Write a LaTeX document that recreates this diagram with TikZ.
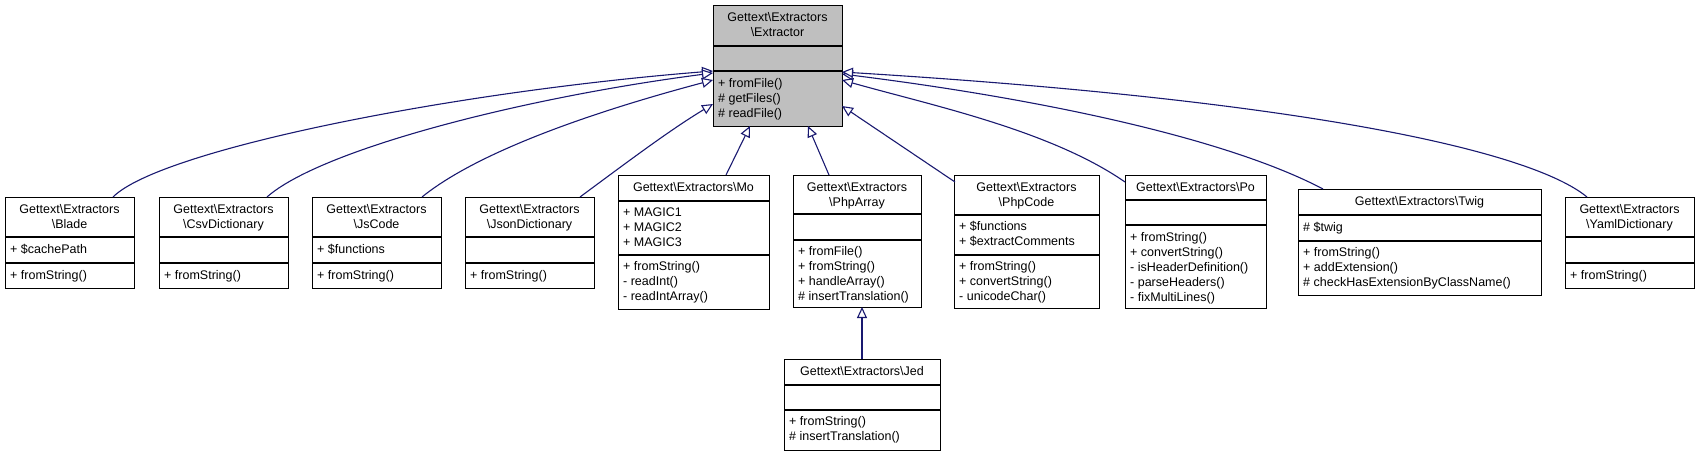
\documentclass[tikz,border=0pt]{standalone}
\usepackage{fontspec}
\setmainfont{Liberation Sans}
\usetikzlibrary{arrows.meta}
\definecolor{edge}{HTML}{191970}
\tikzset{
  box/.style={draw=black, line width=1.2pt, inner sep=0pt, anchor=north west},
  sep/.style={draw=black, line width=1.2pt},
  txt/.style={inner sep=0pt, font=\fontsize{12.5}{15}\selectfont},
  inh/.style={draw=edge, line width=1.1pt, -{Triangle[open, length=11pt, width=10pt, fill=white]}},
}
% name, x1, x2, ytop, ysep1, ysep2, ybottom, fill
\newcommand\cls[8]{%
  \node[box, fill=#8, minimum width={(#3)-(#2)}, minimum height={(#7)-(#4)}] (#1) at (#2,#4) {};
  \draw[sep] (#2,#5) -- (#3,#5);
  \draw[sep] (#2,#6) -- (#3,#6);
}
% title lines: center x, ytop, list
\newcommand\ttl[3]{\foreach \t [count=\i] in {#3} \node[txt, anchor=base] at (#1,#2+1+15*\i) {\t};}
% member lines: x, ytop, list
\newcommand\mem[3]{\foreach \t [count=\i] in {#3} \node[txt, anchor=base west] at (#1+5,#2+15*\i) {\t};}
\newcommand\bs{\textbackslash}
\begin{document}
\begin{tikzpicture}[x=1pt,y=-1pt]
\useasboundingbox (0,0) rectangle (1700,456);
% base
\cls{extractor}{713}{842}{5}{46}{71}{126}{black!25}
\ttl{777.5}{5}{Gettext\bs Extractors, \bs Extractor}
\mem{713}{72}{+ fromFile(), \# getFiles(), \# readFile()}
% Blade
\cls{blade}{5}{134}{197}{237}{263}{288}{white}
\ttl{69.5}{197}{Gettext\bs Extractors, \bs Blade}
\mem{5}{238}{+ \$cachePath}
\mem{5}{264}{+ fromString()}
% Csv
\cls{csv}{159}{288}{197}{237}{263}{288}{white}
\ttl{223.5}{197}{Gettext\bs Extractors, \bs CsvDictionary}
\mem{159}{264}{+ fromString()}
% JsCode
\cls{jscode}{312}{441}{197}{237}{263}{288}{white}
\ttl{376.5}{197}{Gettext\bs Extractors, \bs JsCode}
\mem{312}{238}{+ \$functions}
\mem{312}{264}{+ fromString()}
% Json
\cls{json}{465}{594}{197}{237}{263}{288}{white}
\ttl{529.5}{197}{Gettext\bs Extractors, \bs JsonDictionary}
\mem{465}{264}{+ fromString()}
% Mo
\cls{mo}{618}{769}{175}{201}{255}{309}{white}
\ttl{693.5}{175}{Gettext\bs Extractors\bs Mo}
\mem{618}{201}{+ MAGIC1, + MAGIC2, + MAGIC3}
\mem{618}{255}{+ fromString(), - readInt(), - readIntArray()}
% PhpArray
\cls{phparray}{793}{921}{175}{214}{240}{307}{white}
\ttl{857}{175}{Gettext\bs Extractors, \bs PhpArray}
\mem{793}{240}{+ fromFile(), + fromString(), + handleArray(), \# insertTranslation()}
% PhpCode
\cls{phpcode}{954}{1099}{175}{215}{255}{308}{white}
\ttl{1026.5}{175}{Gettext\bs Extractors, \bs PhpCode}
\mem{954}{215}{+ \$functions, + \$extractComments}
\mem{954}{255}{+ fromString(), + convertString(), - unicodeChar()}
% Po
\cls{po}{1125}{1266}{175}{200}{225}{308}{white}
\ttl{1195.5}{175}{Gettext\bs Extractors\bs Po}
\mem{1125}{226}{+ fromString(), + convertString(), - isHeaderDefinition(), - parseHeaders(), - fixMultiLines()}
% Twig
\cls{twig}{1298}{1541}{189}{215}{241}{295}{white}
\ttl{1419.5}{189}{Gettext\bs Extractors\bs Twig}
\mem{1298}{216}{\# \$twig}
\mem{1298}{241}{+ fromString(), + addExtension(), \# checkHasExtensionByClassName()}
% Yaml
\cls{yaml}{1565}{1694}{197}{237}{263}{288}{white}
\ttl{1629.5}{197}{Gettext\bs Extractors, \bs YamlDictionary}
\mem{1565}{264}{+ fromString()}
% Jed
\cls{jed}{784}{940}{359}{385}{410}{450}{white}
\ttl{862}{359}{Gettext\bs Extractors\bs Jed}
\mem{784}{410}{+ fromString(), \# insertTranslation()}
% connector end points
\coordinate (b1) at (113,197); \coordinate (t1) at (713,71);
\coordinate (b2) at (267,197); \coordinate (t2) at (713,73);
\coordinate (b3) at (422,197); \coordinate (t3) at (713,80);
\coordinate (b4) at (580,197); \coordinate (t4) at (713,104);
\coordinate (b5) at (726,175); \coordinate (t5) at (750,126);
\coordinate (b6) at (829,175); \coordinate (t6) at (808,126);
\coordinate (b7) at (955,182); \coordinate (t7) at (842,106);
\coordinate (b8) at (1125,182); \coordinate (t8) at (842,80);
\coordinate (b9) at (1323,189); \coordinate (t9) at (842,74);
\coordinate (b10) at (1587,197); \coordinate (t10) at (842,72);
\coordinate (b11) at (862,359); \coordinate (t11) at (862,307);
\draw[inh] (b1) .. controls (160,150) and (450,92) .. (t1);
\draw[inh] (b2) .. controls (320,150) and (520,98) .. (t2);
\draw[inh] (b3) .. controls (480,150) and (600,110) .. (t3);
\draw[inh] (b4) .. controls (630,160) and (670,130) .. (t4);
\draw[inh] (b5) -- (t5);
\draw[inh] (b6) -- (t6);
\draw[inh] (b7) -- (t7);
\draw[inh] (b8) .. controls (1050,130) and (930,105) .. (t8);
\draw[inh] (b9) .. controls (1230,140) and (1050,100) .. (t9);
\draw[inh] (b10) .. controls (1530,150) and (1300,100) .. (t10);
\draw[inh] (b11) -- (t11);
\end{tikzpicture}
\end{document}
